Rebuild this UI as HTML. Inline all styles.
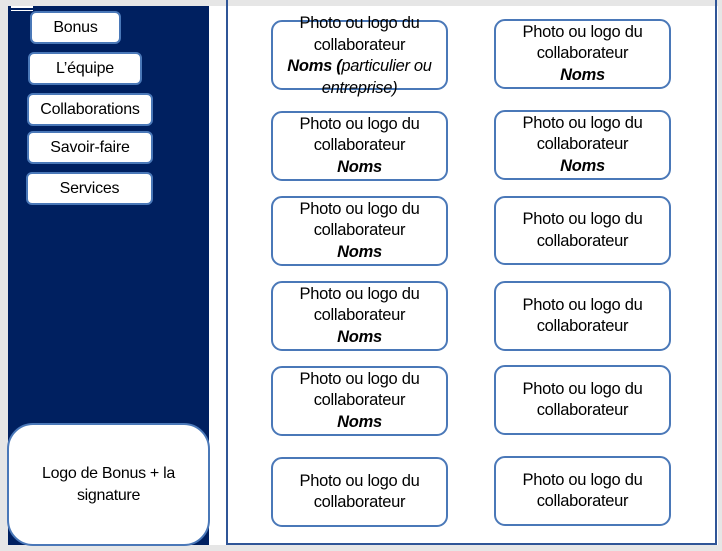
<!DOCTYPE html>
<html><head><meta charset="utf-8"><style>
body{margin:0;width:722px;height:551px;background:#e6e6e6;position:relative;overflow:hidden;font-family:"Liberation Sans",sans-serif;color:#000}
.page{position:absolute;left:8px;top:6px;width:710px;height:539px;background:#fff}
.side{position:absolute;left:8px;top:6px;width:201px;height:539px;background:#002060}
.frame{position:absolute;left:226px;top:0px;width:491px;height:545px;border:2px solid #2f5597;border-top:none;box-sizing:border-box}
.b{position:absolute;background:#fff;border:2px solid #4a78b8;border-radius:6px;box-sizing:border-box;display:flex;align-items:center;justify-content:center;font-size:16px;text-align:center;letter-spacing:-0.2px}
.c{position:absolute;background:#fff;border:2px solid #4a78b8;border-radius:11px;box-sizing:border-box;display:flex;flex-direction:column;align-items:center;justify-content:center;font-size:16.5px;line-height:21.5px;text-align:center;letter-spacing:-0.3px;white-space:nowrap}
.c b{font-style:italic}
</style></head><body>
<div class="page"></div>
<div class="side"></div>
<div style="position:absolute;left:11px;top:6px;width:22px;height:2px;background:#fff"></div>
<div style="position:absolute;left:11px;top:10px;width:22px;height:1px;background:#fff"></div>
<div class="frame"></div>
<div class="b" style="left:30px;top:11px;width:91px;height:33px">Bonus</div>
<div class="b" style="left:28px;top:52px;width:114px;height:33px">L’équipe</div>
<div class="b" style="left:27px;top:93px;width:126px;height:33px">Collaborations</div>
<div class="b" style="left:27px;top:131px;width:126px;height:33px">Savoir-faire</div>
<div class="b" style="left:26px;top:172px;width:127px;height:33px">Services</div>
<div class="c" style="left:7px;top:423px;width:203px;height:123px;border-radius:26px;font-size:16px">Logo de Bonus + la<br>signature</div>

<div class="c" style="left:271px;top:20px;width:177px;height:70px;justify-content:flex-start"><div style="margin-top:-9px">Photo ou logo du<br>collaborateur<br><b>Noms (</b><i>particulier ou<br>entreprise)</i></div></div>
<div class="c" style="left:494px;top:19px;width:177px;height:70px">Photo ou logo du<br>collaborateur<br><b>Noms</b></div>

<div class="c" style="left:271px;top:111px;width:177px;height:70px">Photo ou logo du<br>collaborateur<br><b>Noms</b></div>
<div class="c" style="left:494px;top:110px;width:177px;height:70px">Photo ou logo du<br>collaborateur<br><b>Noms</b></div>

<div class="c" style="left:271px;top:196px;width:177px;height:70px">Photo ou logo du<br>collaborateur<br><b>Noms</b></div>
<div class="c" style="left:494px;top:196px;width:177px;height:69px">Photo ou logo du<br>collaborateur</div>

<div class="c" style="left:271px;top:281px;width:177px;height:70px">Photo ou logo du<br>collaborateur<br><b>Noms</b></div>
<div class="c" style="left:494px;top:281px;width:177px;height:70px">Photo ou logo du<br>collaborateur</div>

<div class="c" style="left:271px;top:366px;width:177px;height:70px">Photo ou logo du<br>collaborateur<br><b>Noms</b></div>
<div class="c" style="left:494px;top:365px;width:177px;height:70px">Photo ou logo du<br>collaborateur</div>

<div class="c" style="left:271px;top:457px;width:177px;height:70px">Photo ou logo du<br>collaborateur</div>
<div class="c" style="left:494px;top:456px;width:177px;height:70px">Photo ou logo du<br>collaborateur</div>
</body></html>
